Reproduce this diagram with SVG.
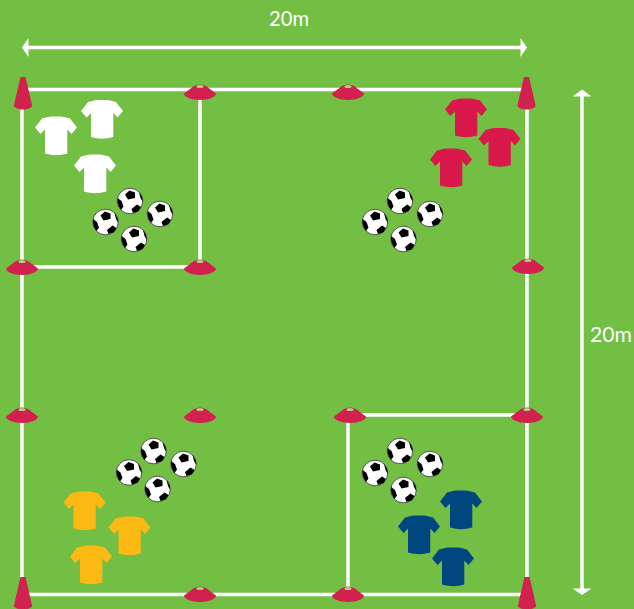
<svg xmlns="http://www.w3.org/2000/svg" width="634" height="609" viewBox="0 0 634 609">
<style>
.ln{stroke:#fff;stroke-width:3.500;fill:none}
.ah{fill:#fff}
.lb{font-family:"Lato","Liberation Sans",sans-serif;font-size:21px;fill:#fff;text-anchor:middle}
.w{fill:#fff}.r{fill:#d9184b}.y{fill:#fdb913}.b{fill:#00467f}
.k{fill:#d2214f}
</style>
<defs>
<path id="shirt" d="M13 1L16 0.500H26L29 1L35 2.500L42 11.500L36.500 18L32.300 13.500L32.300 37.500Q21 41 10 37.500L10 13.500L5.500 18L0 11.500L7 2.500Z"/>
<g id="ball">
<circle r="12.800" fill="#fff" stroke="#444" stroke-width="0.900"/>
<path d="M-5-6.500L-0.500-10.500L5-8.500L5-3L-2-1.500Z" fill="#000"/>
<path d="M1.500 8L7 3.500L11 6L8.500 10.300L3 12Z" fill="#000"/>
<path d="M-12.300-3L-8.500 0L-6.500 5.500L-9 9Q-13.500 3-12.300-3Z" fill="#000"/>
<path d="M9-9Q12.500-5 12.800 1L10.500-3Z" fill="#000"/>
</g>
<g id="disc">
<path class="k" d="M-16 1.500L-6-6Q0-9 6-6L16 1.500C16 5 9 8 0 8C-9 8-16 5-16 1.500Z"/>
<ellipse cy="-5.500" rx="3.500" ry="1.500" fill="#a9d47f"/>
</g>
<path id="cone" class="k" d="M-2.500 0L2.500 0L9 28C9.500 31 4 32.500 0 32.500C-4 32.500-9.500 31-9 28Z"/>
</defs>
<rect width="634" height="609" fill="#72bf44"/>
<g id="connectors">
<path class="ln" d="M22 89.500H527M22 594.500H527M22 89.500V594.500M527 89.500V594.500"/>
<path class="ln" d="M200 89.500V267M22 267H200"/>
<path class="ln" d="M348 415V594.500M348 415H527"/>
<path class="ln" d="M26 47.500H523"/>
<path class="ah" d="M22 47.500L28.500 38V57Z"/>
<path class="ah" d="M527 47.500L520.500 38V57Z"/>
<path class="ln" d="M582 93V591"/>
<path class="ah" d="M582 89.500L591.500 96.500H572.500Z"/>
<path class="ah" d="M582 595L591.500 588.500H572.500Z"/>
</g>
<g id="label-top"><text class="lb" x="289" y="26" textLength="40" lengthAdjust="spacingAndGlyphs">20m</text></g>
<g id="label-right"><text class="lb" x="611" y="342" textLength="42" lengthAdjust="spacingAndGlyphs">20m</text></g>
<g id="cones">
<use href="#cone" x="23" y="77"/>
<use href="#cone" x="526.500" y="77"/>
<use href="#cone" x="23" y="577"/>
<use href="#cone" x="527" y="577"/>
</g>
<g id="discs">
<use href="#disc" x="200" y="92"/>
<use href="#disc" x="348" y="92"/>
<use href="#disc" x="22" y="267"/>
<use href="#disc" x="200" y="267"/>
<use href="#disc" x="528" y="266"/>
<use href="#disc" x="22" y="415"/>
<use href="#disc" x="200" y="415"/>
<use href="#disc" x="350" y="415"/>
<use href="#disc" x="527" y="415"/>
<use href="#disc" x="200" y="594"/>
<use href="#disc" x="348" y="594"/>
</g>
<g id="white-shirts" class="w">
<use href="#shirt" x="35" y="116"/>
<use href="#shirt" x="81" y="99.500"/>
<use href="#shirt" x="74" y="154"/>
</g>
<g id="red-shirts" class="r">
<use href="#shirt" x="445" y="98"/>
<use href="#shirt" x="478.500" y="127.500"/>
<use href="#shirt" x="430" y="148"/>
</g>
<g id="yellow-shirts" class="y">
<use href="#shirt" x="63.500" y="491"/>
<use href="#shirt" x="108.500" y="516"/>
<use href="#shirt" x="70" y="545"/>
</g>
<g id="blue-shirts" class="b">
<use href="#shirt" x="440" y="490"/>
<use href="#shirt" x="398" y="515"/>
<use href="#shirt" x="432" y="547"/>
</g>
<g id="balls-white">
<use href="#ball" x="130" y="201"/>
<use href="#ball" x="160" y="214"/>
<use href="#ball" x="105.500" y="222"/>
<use href="#ball" x="134" y="239"/>
</g>
<g id="balls-red">
<use href="#ball" x="400" y="201"/>
<use href="#ball" x="430" y="214"/>
<use href="#ball" x="375" y="222"/>
<use href="#ball" x="403.500" y="239"/>
</g>
<g id="balls-yellow">
<use href="#ball" x="153.500" y="451"/>
<use href="#ball" x="183.500" y="464"/>
<use href="#ball" x="129" y="472.500"/>
<use href="#ball" x="157.500" y="489"/>
</g>
<g id="balls-blue">
<use href="#ball" x="400" y="451"/>
<use href="#ball" x="430" y="464"/>
<use href="#ball" x="375" y="473"/>
<use href="#ball" x="403.500" y="490"/>
</g>
</svg>
